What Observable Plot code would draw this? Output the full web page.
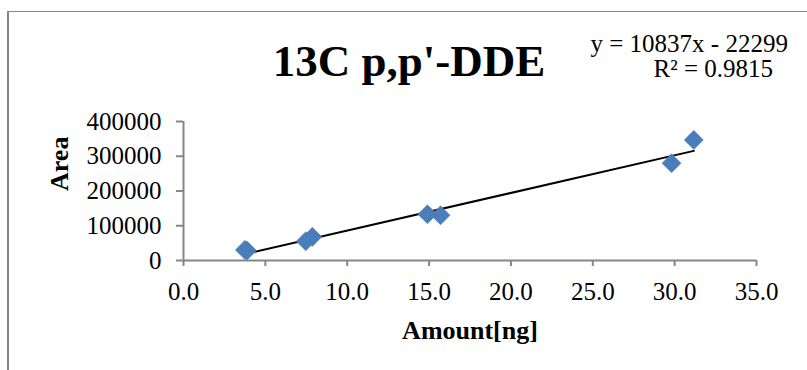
<!DOCTYPE html>
<html>
<head>
<meta charset="utf-8">
<script src="https://cdn.jsdelivr.net/npm/d3@7"></script>
<script src="https://cdn.jsdelivr.net/npm/@observablehq/plot@0.6"></script>
<style>
  html, body { margin: 0; padding: 0; background: #fff; overflow: hidden; }
  #wrap { position: relative; width: 807px; height: 370px; overflow: hidden; }
  #border { position: absolute; left: 7px; top: 11px; width: 900px; height: 500px;
            border-left: 2px solid #868686; border-top: 1.5px solid #868686; pointer-events: none; }
  #chart { position: absolute; left: 0; top: 0; }
</style>
</head>
<body>
<div id="wrap"><div id="chart"></div><div id="border"></div></div>
<script>
// Data
const amount = [3.75, 3.88, 7.47, 7.87, 14.9, 15.7, 29.81, 31.17];
const area   = [30500, 28500, 55500, 68000, 133000, 130000, 280000, 347000];
const xTicks = [0, 5, 10, 15, 20, 25, 30, 35];
const yTicks = [0, 100000, 200000, 300000, 400000];
const titleText = "13C p,p'-DDE";
const xLabel = "Amount[ng]";
const yLabel = "Area";
const eqLine1 = "y = 10837x - 22299";
const eqLine2 = "R² = 0.9815";
const trendSlope = 10837;
const trendIntercept = -22299;

const points = amount.map((a, i) => ({x: a, y: area[i]}));
const xExt = d3.extent(amount);
const trend = xExt.map(x => ({x, y: trendSlope * x + trendIntercept}));

const axisColor = "#868686";
const serif = "'Liberation Serif', 'Times New Roman', serif";

const chart = Plot.plot({
  width: 807,
  height: 370,
  marginLeft: 183,
  marginRight: 51,
  marginTop: 121,
  marginBottom: 110,
  style: {fontFamily: serif, fontSize: "25px", color: "black", background: "white", overflow: "visible"},
  x: {domain: [0, 35]},
  y: {domain: [0, 400000]},
  marks: [
    // axis lines
    Plot.ruleY([0], {x1: 0, x2: 35, stroke: axisColor, strokeWidth: 2, dx: 0}),
    Plot.ruleX([0], {y1: 0, y2: 400000, stroke: axisColor, strokeWidth: 2}),
    // ticks + labels
    Plot.axisX({ticks: xTicks, tickSize: 6, tickPadding: 16, stroke: axisColor, strokeWidth: 2,
                fill: "black", tickFormat: d => d.toFixed(1), label: null}),
    Plot.axisY({ticks: yTicks, tickSize: 7, tickPadding: 15, stroke: axisColor, strokeWidth: 2,
                fill: "black", tickFormat: d => String(d), label: null}),
    // trendline
    Plot.line(trend, {x: "x", y: "y", stroke: "black", strokeWidth: 2}),
    // data points
    Plot.dot(points, {x: "x", y: "y", symbol: "diamond2", r: 8.6, fill: "#4A7EBB", stroke: "#4A7EBB", strokeWidth: 0.5}),
    // title
    Plot.text([titleText], {frameAnchor: "top", text: d => d, dx: -61, dy: -46, lineAnchor: "bottom",
                fontSize: 45, fontWeight: "bold", fill: "black"}),
    // equation
    Plot.text([eqLine1], {frameAnchor: "top-right", text: d => d, textAnchor: "start", dx: -166, dy: -70,
                lineAnchor: "bottom", fontSize: 25, fill: "black"}),
    Plot.text([eqLine2], {frameAnchor: "top-right", text: d => d, textAnchor: "start", dx: -103, dy: -45,
                lineAnchor: "bottom", fontSize: 25, fill: "black"}),
    // axis titles
    Plot.text([xLabel], {frameAnchor: "bottom", text: d => d, dy: 78, lineAnchor: "bottom",
                fontSize: 26, fontWeight: "bold", fill: "black"}),
    Plot.text([yLabel], {frameAnchor: "left", text: d => d, rotate: -90, dx: -116, lineAnchor: "bottom",
                fontSize: 26, fontWeight: "bold", fill: "black"})
  ]
});
document.getElementById("chart").appendChild(chart);
</script>
</body>
</html>
